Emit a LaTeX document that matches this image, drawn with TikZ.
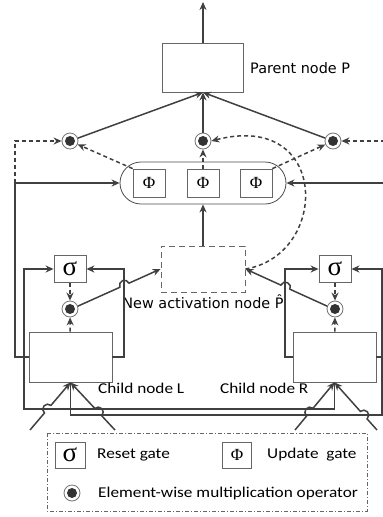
\documentclass[tikz,border=0pt]{standalone}
\usepackage{fontspec}
\setmainfont{Carlito}[FakeStretch=1.15]
\newfontfamily\dvfont{DejaVu Sans}
\newfontfamily\grfont{Liberation Serif}
\usetikzlibrary{calc,positioning,arrows.meta}

\tikzset{
  wire/.style={draw=black!75, line width=1.5pt},
  dwire/.style={wire, dash pattern=on 4pt off 3pt},
  cell/.style={draw=black!60, line width=0.8pt, minimum width=83pt, minimum height=50pt, inner sep=0pt},
  gatebox/.style={draw=black!60, line width=0.8pt, minimum width=32pt, minimum height=27pt, inner sep=0pt, fill=white},
  sig/.style={gatebox, font=\grfont\fontsize{27}{27}\selectfont},
  phi/.style={gatebox, minimum height=28pt, font=\grfont\fontsize{17}{17}\selectfont},
  mult/.style={circle, draw=black!55, line width=0.8pt, minimum size=16pt, inner sep=0pt,
    path picture={\fill[black!80] (path picture bounding box.center) circle (5pt);}},
  oval/.style={draw=black!70, line width=0.8pt, rounded corners=21pt, minimum width=166pt, minimum height=42pt},
  newbox/.style={draw=black!60, line width=0.9pt, dash pattern=on 6pt off 4pt, minimum width=84pt, minimum height=46pt},
  txt/.style={anchor=west, inner sep=0pt},
  dvtxt/.style={font=\dvfont\fontsize{14.4}{17}\selectfont}
}

% line with a small hop over a crossing wire
\newcommand{\hopline}[4]{%
  \draw[wire,->] let \p1=(#1), \p2=(#2), \n1={atan2(\y2-\y1,\x2-\x1)} in
    (#1) -- ($(#1)!#3!(#2)$) arc[start angle={\n1+180}, end angle={\n1+#4}, radius=5pt] -- (#2);
}

\begin{document}
\begin{tikzpicture}[x=1pt, y=1pt, >={Stealth[length=8pt,width=7pt]},
  every node/.style={font=\fontsize{15}{18}\selectfont}]
\useasboundingbox (0,0) rectangle (383,-517);
\clip (0,0) rectangle (383,-517);

% parent node
\node[cell, minimum width=81pt, minimum height=49pt] (parent) at (203,-67.5) {};
\coordinate (out) at (203,-2);
\draw[wire,->] (parent.north) -- (out);
\node[txt, dvtxt] (ptext) at (250,-68) {Parent node P};

% element-wise products feeding the parent
\node[mult] (mL) at (70,-141) {};
\node[mult] (mC) at (203,-141) {};
\node[mult] (mR) at (333,-141) {};
\foreach \m in {mL,mC,mR}
  \draw[wire,->] (\m) -- (parent.south);

% update gates
\node[oval] (gates) at (203,-183) {};
\node[phi] (phiL) at (149,-183) {Φ};
\node[phi] (phiC) at (203,-183) {Φ};
\node[phi] (phiR) at (256,-183) {Φ};
\draw[dwire,->] (phiL.north west) -- (mL);
\draw[dwire,->] (phiC.north) -- (mC);
\draw[dwire,->] (phiR.north east) -- (mR);

% new activation
\node[newbox] (newact) at (203,-269) {};
\node[dvtxt] (newlab) at (203,-302) {New activation node P̂};
\draw[wire,->] (newact.north) -- (gates.south);
\draw[dwire,->] (newact.east) .. controls (330,-255) and (330,-110) .. (mC.east);

% children, reset gates and products
\node[cell] (childL) at (70.5,-357) {};
\node[cell] (childR) at (334.5,-357) {};
\node[txt] at (98,-388) {Child node L};
\node[txt] at (220,-388) {Child node R};
\node[sig] (sL) at (70,-269) {σ};
\node[sig] (sR) at (335,-269) {σ};
\node[mult] (mL2) at (70,-309) {};
\node[mult] (mR2) at (335,-309) {};
\draw[dwire,->] (sL) -- (mL2);
\draw[dwire,->] (childL) -- (mL2);
\draw[dwire,->] (sR) -- (mR2);
\draw[dwire,->] (childR) -- (mR2);

% rails
\coordinate (lrailtop) at (15,-183);
\coordinate (rrailtop) at (392,-183);
\draw[wire,->] (childL.west) -| (lrailtop) -- (gates.west);
\draw[dwire,->] (lrailtop) |- (mL);
\draw[wire,->] (childR.east) -| (rrailtop) -- (gates.east);
\draw[dwire,->] (rrailtop) |- (mR);

\coordinate (lin) at (124,-269);
\coordinate (rin) at (285,-269);
\draw[wire,->] (childL.east) -| (lin) -- (sL.east);
\draw[wire,->] (childR.west) -| (rin) -- (sR.west);

\coordinate (lrail) at (24,-409);
\coordinate (rrail) at (382,-415);
\draw[wire,->] (childR.south) |- (lrail) |- (sL.west);
\draw[wire,->] (childL.south) |- (rrail) |- (sR.east);

% products into new activation
\hopline{mL2.20}{newact.west}{0.508}{0}
\hopline{mR2.160}{newact.east}{0.455}{360}

% inputs to the children
\coordinate (inL1) at (30,-430);
\coordinate (inL2) at (115,-430);
\coordinate (inR1) at (295,-430);
\coordinate (inR2) at (377,-430);
\hopline{inL1}{childL.south}{0.357}{0}
\hopline{inL2}{childL.south}{0.30}{360}
\hopline{inR1}{childR.south}{0.295}{0}
\hopline{inR2}{childR.south}{0.234}{360}

% legend
\draw[black!60, line width=0.8pt, dash pattern=on 4pt off 2pt on 1pt off 2pt] (47,-433) rectangle (367,-511);
\node[sig, minimum width=30pt, minimum height=26pt] (keysig) at (70,-455) {σ};
\node[txt] at (97,-455) {Reset gate};
\node[phi, minimum width=29pt, minimum height=26pt] (keyphi) at (237,-455) {Φ};
\node[txt] at (267,-455) {Update\ \ gate};
\node[mult] (keymul) at (72,-493) {};
\node[txt] at (98,-493) {Element-wise multiplication operator};
\end{tikzpicture}
\end{document}
